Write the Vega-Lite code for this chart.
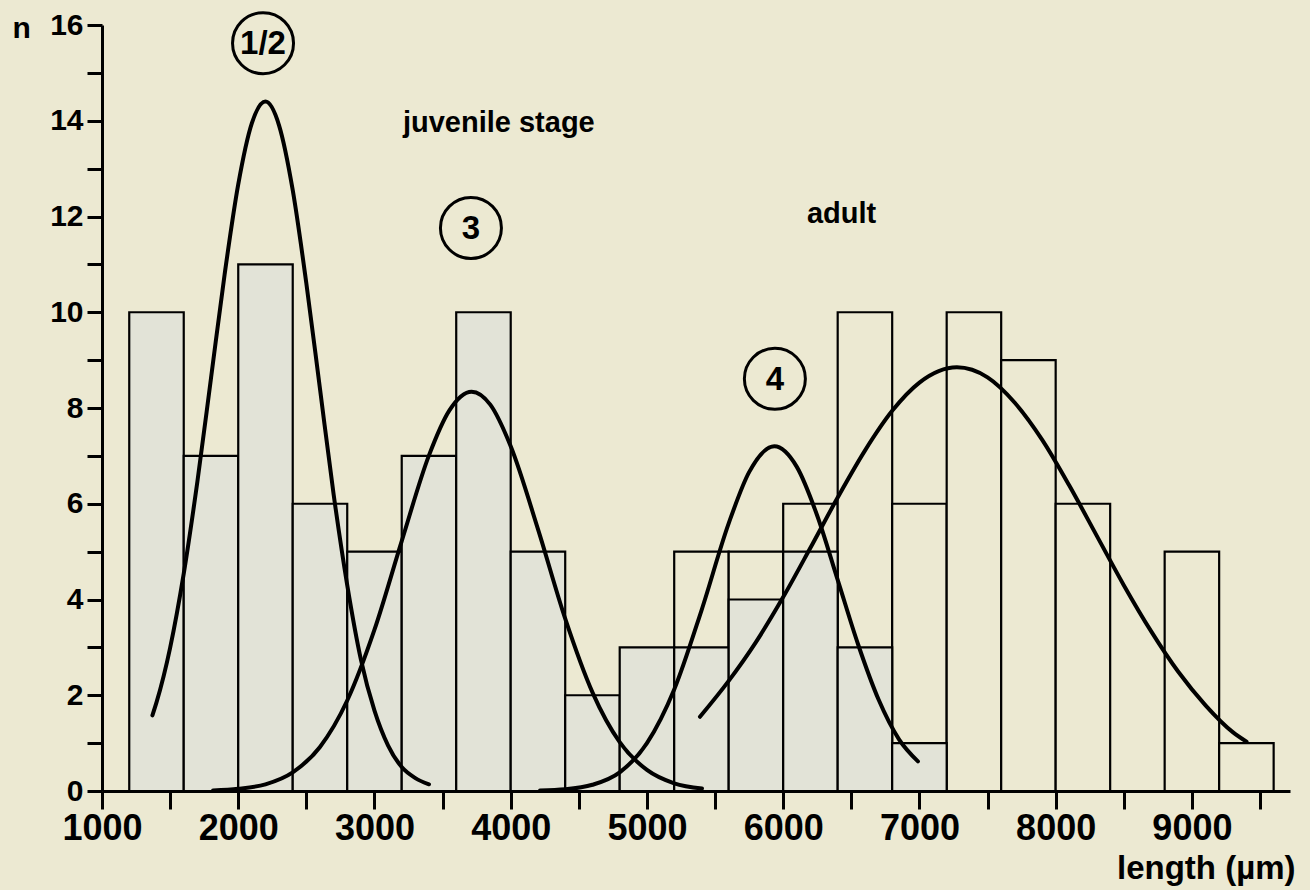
{
  "$schema": "https://vega.github.io/schema/vega-lite/v6.json",
  "autosize": {"type": "none"},
  "padding": {"left": 102, "top": 25, "right": 20, "bottom": 99},
  "width": 1188,
  "height": 766,
  "background": "#ece9d2",
  "config": {"view": {"stroke": null}, "font": "Liberation Sans"},
  "datasets": {
    "bars": [
      {"group": "juvenile", "x": 1200, "x2": 1600, "y": 10},
      {"group": "juvenile", "x": 1600, "x2": 2000, "y": 7},
      {"group": "juvenile", "x": 2000, "x2": 2400, "y": 11},
      {"group": "juvenile", "x": 2400, "x2": 2800, "y": 6},
      {"group": "juvenile", "x": 2800, "x2": 3200, "y": 5},
      {"group": "juvenile", "x": 3200, "x2": 3600, "y": 7},
      {"group": "juvenile", "x": 3600, "x2": 4000, "y": 10},
      {"group": "juvenile", "x": 4000, "x2": 4400, "y": 5},
      {"group": "juvenile", "x": 4400, "x2": 4800, "y": 2},
      {"group": "juvenile", "x": 4800, "x2": 5200, "y": 3},
      {"group": "juvenile", "x": 5200, "x2": 5600, "y": 3},
      {"group": "juvenile", "x": 5600, "x2": 6000, "y": 4},
      {"group": "juvenile", "x": 6000, "x2": 6400, "y": 5},
      {"group": "juvenile", "x": 6400, "x2": 6800, "y": 3},
      {"group": "juvenile", "x": 6800, "x2": 7200, "y": 1},
      {"group": "adult", "x": 5200, "x2": 5600, "y": 5},
      {"group": "adult", "x": 5600, "x2": 6000, "y": 5},
      {"group": "adult", "x": 6000, "x2": 6400, "y": 6},
      {"group": "adult", "x": 6400, "x2": 6800, "y": 10},
      {"group": "adult", "x": 6800, "x2": 7200, "y": 6},
      {"group": "adult", "x": 7200, "x2": 7600, "y": 10},
      {"group": "adult", "x": 7600, "x2": 8000, "y": 9},
      {"group": "adult", "x": 8000, "x2": 8400, "y": 6},
      {"group": "adult", "x": 8800, "x2": 9200, "y": 5},
      {"group": "adult", "x": 9200, "x2": 9600, "y": 1}
    ],
    "curves": [
      {"curve": "1/2", "x": 1370, "y": 1.58},
      {"curve": "1/2", "x": 1400, "y": 1.85},
      {"curve": "1/2", "x": 1500, "y": 2.99},
      {"curve": "1/2", "x": 1600, "y": 4.54},
      {"curve": "1/2", "x": 1700, "y": 6.46},
      {"curve": "1/2", "x": 1800, "y": 8.62},
      {"curve": "1/2", "x": 1900, "y": 10.79},
      {"curve": "1/2", "x": 2000, "y": 12.67},
      {"curve": "1/2", "x": 2100, "y": 13.95},
      {"curve": "1/2", "x": 2200, "y": 14.4},
      {"curve": "1/2", "x": 2300, "y": 13.9},
      {"curve": "1/2", "x": 2400, "y": 12.55},
      {"curve": "1/2", "x": 2500, "y": 10.6},
      {"curve": "1/2", "x": 2600, "y": 8.4},
      {"curve": "1/2", "x": 2700, "y": 6.2},
      {"curve": "1/2", "x": 2800, "y": 4.3},
      {"curve": "1/2", "x": 2900, "y": 2.75},
      {"curve": "1/2", "x": 3000, "y": 1.68},
      {"curve": "1/2", "x": 3100, "y": 0.95},
      {"curve": "1/2", "x": 3200, "y": 0.5},
      {"curve": "1/2", "x": 3300, "y": 0.27},
      {"curve": "1/2", "x": 3400, "y": 0.14},
      {"curve": "3", "x": 1815, "y": 0.01},
      {"curve": "3", "x": 2000, "y": 0.045},
      {"curve": "3", "x": 2200, "y": 0.14},
      {"curve": "3", "x": 2400, "y": 0.39},
      {"curve": "3", "x": 2600, "y": 0.92},
      {"curve": "3", "x": 2800, "y": 1.89},
      {"curve": "3", "x": 3000, "y": 3.37},
      {"curve": "3", "x": 3200, "y": 5.22},
      {"curve": "3", "x": 3400, "y": 7.01},
      {"curve": "3", "x": 3550, "y": 7.95},
      {"curve": "3", "x": 3713, "y": 8.34},
      {"curve": "3", "x": 3850, "y": 8.07},
      {"curve": "3", "x": 4000, "y": 7.2},
      {"curve": "3", "x": 4200, "y": 5.47},
      {"curve": "3", "x": 4400, "y": 3.6},
      {"curve": "3", "x": 4600, "y": 2.06},
      {"curve": "3", "x": 4800, "y": 1.02},
      {"curve": "3", "x": 5000, "y": 0.44},
      {"curve": "3", "x": 5200, "y": 0.16},
      {"curve": "3", "x": 5404, "y": 0.05},
      {"curve": "4", "x": 4215, "y": 0.01},
      {"curve": "4", "x": 4400, "y": 0.035},
      {"curve": "4", "x": 4600, "y": 0.13},
      {"curve": "4", "x": 4800, "y": 0.39},
      {"curve": "4", "x": 5000, "y": 1.0},
      {"curve": "4", "x": 5200, "y": 2.12},
      {"curve": "4", "x": 5400, "y": 3.77},
      {"curve": "4", "x": 5600, "y": 5.59},
      {"curve": "4", "x": 5750, "y": 6.66},
      {"curve": "4", "x": 5935, "y": 7.2},
      {"curve": "4", "x": 6100, "y": 6.77},
      {"curve": "4", "x": 6250, "y": 5.75},
      {"curve": "4", "x": 6400, "y": 4.41},
      {"curve": "4", "x": 6550, "y": 3.06},
      {"curve": "4", "x": 6700, "y": 1.91},
      {"curve": "4", "x": 6850, "y": 1.08},
      {"curve": "4", "x": 6989, "y": 0.62},
      {"curve": "adult", "x": 5389, "y": 1.55},
      {"curve": "adult", "x": 5600, "y": 2.3},
      {"curve": "adult", "x": 5800, "y": 3.11},
      {"curve": "adult", "x": 6000, "y": 4.05},
      {"curve": "adult", "x": 6200, "y": 5.08},
      {"curve": "adult", "x": 6400, "y": 6.13},
      {"curve": "adult", "x": 6600, "y": 7.11},
      {"curve": "adult", "x": 6800, "y": 7.94},
      {"curve": "adult", "x": 7000, "y": 8.53},
      {"curve": "adult", "x": 7275, "y": 8.85},
      {"curve": "adult", "x": 7500, "y": 8.64},
      {"curve": "adult", "x": 7700, "y": 8.11},
      {"curve": "adult", "x": 7900, "y": 7.34},
      {"curve": "adult", "x": 8100, "y": 6.38},
      {"curve": "adult", "x": 8300, "y": 5.34},
      {"curve": "adult", "x": 8500, "y": 4.3},
      {"curve": "adult", "x": 8700, "y": 3.34},
      {"curve": "adult", "x": 8900, "y": 2.49},
      {"curve": "adult", "x": 9100, "y": 1.79},
      {"curve": "adult", "x": 9300, "y": 1.23},
      {"curve": "adult", "x": 9401, "y": 1.03}
    ],
    "circled": [
      {"label": "1/2", "x": 2182, "y": 15.62},
      {"label": "3", "x": 3708, "y": 11.76},
      {"label": "4", "x": 5939, "y": 8.61}
    ],
    "notes": [
      {"label": "juvenile stage", "x": 3209, "y": 13.77},
      {"label": "adult", "x": 6174, "y": 11.86}
    ]
  },
  "encoding": {
    "x": {
      "field": "x",
      "type": "quantitative",
      "scale": {"domain": [1000, 9720], "nice": false, "zero": false},
      "axis": {
        "values": [1000, 1500, 2000, 2500, 3000, 3500, 4000, 4500, 5000, 5500, 6000, 6500, 7000, 7500, 8000, 8500, 9000, 9500],
        "format": "d",
        "labelExpr": "datum.value % 1000 == 0 ? datum.label : ''",
        "grid": false,
        "tickSize": 18,
        "tickWidth": 3,
        "tickColor": "black",
        "domainWidth": 3,
        "domainColor": "black",
        "labelFont": "Liberation Sans",
        "labelFontWeight": "bold",
        "labelFontSize": 36,
        "labelColor": "black",
        "labelPadding": 2,
        "labelOverlap": false,
        "labelFlush": false,
        "title": "length (µm)",
        "titleX": 1193,
        "titleY": 87,
        "titleAlign": "right",
        "titleBaseline": "alphabetic",
        "titleFont": "Liberation Sans",
        "titleFontWeight": "bold",
        "titleFontSize": 33,
        "titleColor": "black"
      }
    },
    "y": {
      "field": "y",
      "type": "quantitative",
      "scale": {"domain": [0, 16], "nice": false},
      "axis": {
        "values": [0, 1, 2, 3, 4, 5, 6, 7, 8, 9, 10, 11, 12, 13, 14, 15, 16],
        "labelExpr": "datum.value % 2 == 0 ? datum.label : ''",
        "grid": false,
        "tickSize": 15,
        "tickWidth": 3,
        "tickColor": "black",
        "domainWidth": 3,
        "domainColor": "black",
        "labelFont": "Liberation Sans",
        "labelFontWeight": "bold",
        "labelFontSize": 30,
        "labelColor": "black",
        "labelPadding": 4,
        "labelOverlap": false,
        "labelFlush": false,
        "title": "n",
        "titleAngle": 0,
        "titleX": -90,
        "titleY": 12,
        "titleAlign": "left",
        "titleBaseline": "alphabetic",
        "titleFont": "Liberation Sans",
        "titleFontWeight": "bold",
        "titleFontSize": 30,
        "titleColor": "black"
      }
    }
  },
  "layer": [
    {
      "data": {"name": "bars"},
      "transform": [{"filter": "datum.group == 'adult'"}],
      "mark": {"type": "rect", "fill": "#ece9d2", "stroke": "black", "strokeWidth": 2.2},
      "encoding": {"x2": {"field": "x2"}, "y2": {"datum": 0}}
    },
    {
      "data": {"name": "bars"},
      "transform": [{"filter": "datum.group == 'juvenile'"}],
      "mark": {"type": "rect", "fill": "#e2e3d7", "stroke": "black", "strokeWidth": 2.2},
      "encoding": {"x2": {"field": "x2"}, "y2": {"datum": 0}}
    },
    {
      "data": {"name": "curves"},
      "mark": {"type": "line", "color": "black", "strokeWidth": 4, "interpolate": "monotone", "strokeCap": "round"},
      "encoding": {"detail": {"field": "curve"}}
    },
    {
      "data": {"name": "circled"},
      "mark": {"type": "point", "shape": "circle", "size": 3721, "filled": false, "stroke": "black", "strokeWidth": 3, "opacity": 1}
    },
    {
      "data": {"name": "circled"},
      "mark": {"type": "text", "font": "Liberation Sans", "fontWeight": "bold", "fontSize": 33, "align": "center", "baseline": "middle", "dy": 1, "color": "black"},
      "encoding": {"text": {"field": "label"}}
    },
    {
      "data": {"name": "notes"},
      "mark": {"type": "text", "font": "Liberation Sans", "fontWeight": "bold", "fontSize": 29, "align": "left", "baseline": "alphabetic", "color": "black"},
      "encoding": {"text": {"field": "label"}}
    }
  ]
}
